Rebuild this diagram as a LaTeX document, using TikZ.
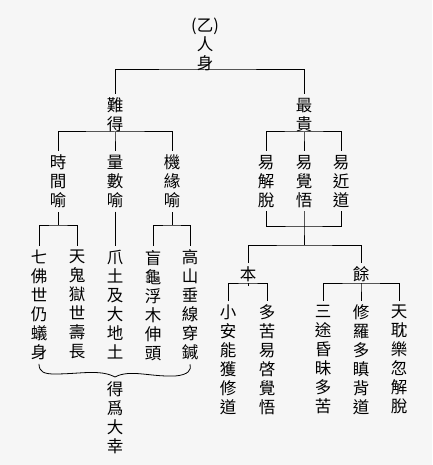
\documentclass[tikz,border=0pt]{standalone}
\usepackage{fontspec}
\newfontfamily\cjk{Noto Sans CJK TC}
\usetikzlibrary{positioning}
\tikzset{
  col/.style={font=\cjk\fontsize{16.5}{19}\selectfont, align=center, inner sep=0pt, outer sep=4pt, anchor=north},
  br/.style={draw, line width=1pt}
}

\begin{document}
\begin{tikzpicture}[x=1pt,y=-1pt]
  \fill[gray!7] (0,0) rectangle (432,465);
  \useasboundingbox (0,0) rectangle (432,465);
  % top level
  \node[col] (yi) at (205,14) {(乙)\\人\\身};
  \node[col] (nande) at (115,94) {難\\得};
  \node[col] (zuigui) at (304,94) {最\\貴};
  % second level
  \node[col] (shijian) at (58,151) {時\\間\\喻};
  \node[col] (liangshu) at (115,151) {量\\數\\喻};
  \node[col] (jiyuan) at (172,151) {機\\緣\\喻};
  \node[col] (yijietuo) at (266,151) {易\\解\\脫};
  \node[col] (yijuewu) at (304,151) {易\\覺\\悟};
  \node[col] (yijindao) at (341,151) {易\\近\\道};
  % third level
  \node[col] (qifo) at (39,246) {七\\佛\\世\\仍\\蟻\\身};
  \node[col] (tiangui) at (77,246) {天\\鬼\\獄\\世\\壽\\長};
  \node[col] (zhaotu) at (115,246) {爪\\土\\及\\大\\地\\土};
  \node[col] (manggui) at (153,246) {盲\\龜\\浮\\木\\伸\\頭};
  \node[col] (gaoshan) at (190,246) {高\\山\\垂\\線\\穿\\鍼};
  \node[col] (ben) at (248,263) {本};
  \node[col] (yu) at (361,263) {餘};
  \node[col] (xiaoan) at (228,301) {小\\安\\能\\獲\\修\\道};
  \node[col] (duoku) at (267,301) {多\\苦\\易\\啓\\覺\\悟};
  \node[col] (santu) at (323,301) {三\\途\\昏\\昧\\多\\苦};
  \node[col] (xiuluo) at (361,301) {修\\羅\\多\\瞋\\背\\道};
  \node[col] (tiandan) at (399,301) {天\\耽\\樂\\忽\\解\\脫};
  \node[col] (dewei) at (115,378) {得\\爲\\大\\幸};

  % junctions
  \coordinate (j0) at (205,70);
  \coordinate (j1) at (115,132);
  \coordinate (j2) at (304,132);
  \coordinate (j3) at (58,225);
  \coordinate (j4) at (172,225);
  \coordinate (j5) at (304,226);
  \coordinate (j6) at (304,245);
  \coordinate (j7) at (248,283);
  \coordinate (j8) at (361,283);
  \coordinate (tip) at (115,377);

  \draw[br] (nande.north) |- (j0) -| (zuigui.north);
  \draw[br] (nande.south) -- (j1) -- (liangshu.north);
  \draw[br] (shijian.north) |- (j1) -| (jiyuan.north);
  \draw[br] (zuigui.south) -- (j2) -- (yijuewu.north);
  \draw[br] (yijietuo.north) |- (j2) -| (yijindao.north);
  \draw[br] (shijian.south) -- (j3);
  \draw[br] (qifo.north) |- (j3) -| (tiangui.north);
  \draw[br] (liangshu.south) -- (zhaotu.north);
  \draw[br] (jiyuan.south) -- (j4);
  \draw[br] (manggui.north) |- (j4) -| (gaoshan.north);
  \draw[br] (yijietuo.south) |- (j5) -| (yijindao.south);
  \draw[br] (yijuewu.south) -- (j5) -- (j6);
  \draw[br] (ben.north) |- (j6) -| (yu.north);
  \draw[br] (ben.south) -- (j7);
  \draw[br] (xiaoan.north) |- (j7) -| (duoku.north);
  \draw[br] (yu.south) -- (j8) -- (xiuluo.north);
  \draw[br] (santu.north) |- (j8) -| (tiandan.north);
  % brace
  \draw[br, line width=0.8pt] (qifo.south) .. controls (39,372) and (44,374) .. (55,374)
    .. controls (80,374) and (100,369) .. (tip)
    .. controls (130,369) and (150,377) .. (175,376)
    .. controls (188,375) and (192,370) .. (gaoshan.south);
\end{tikzpicture}
\end{document}
